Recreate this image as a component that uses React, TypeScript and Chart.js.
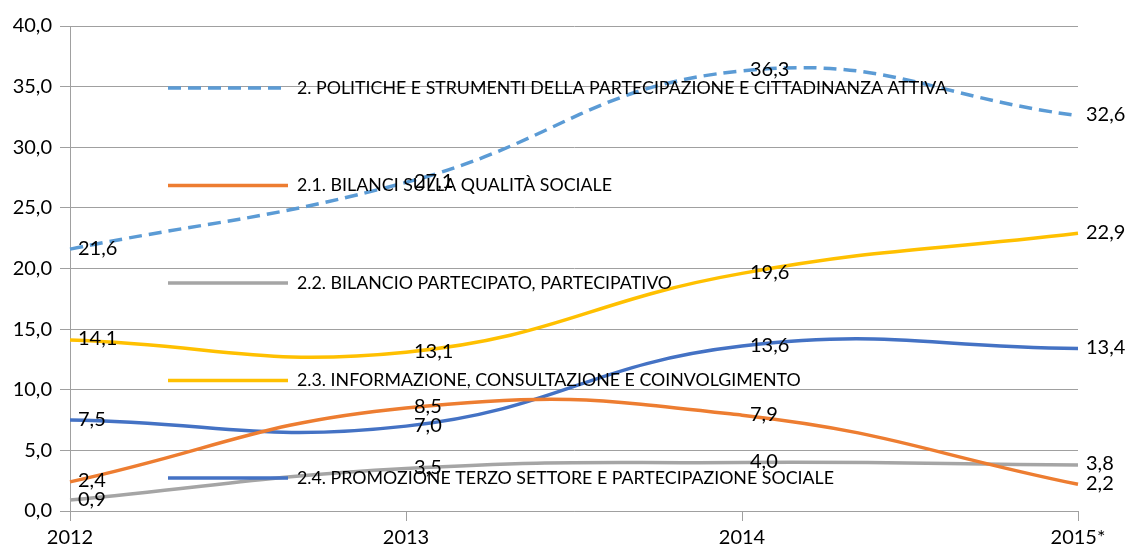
import React, { useEffect, useRef } from "react";
import { Chart, registerables } from "chart.js";

Chart.register(...registerables);

const categories = ["2012", "2013", "2014", "2015*"];
const seriesNames = [
  "2. POLITICHE E STRUMENTI DELLA PARTECIPAZIONE E CITTADINANZA ATTIVA",
  "2.1. BILANCI SULLA QUALITÀ SOCIALE",
  "2.2. BILANCIO PARTECIPATO, PARTECIPATIVO",
  "2.3. INFORMAZIONE, CONSULTAZIONE E COINVOLGIMENTO",
  "2.4. PROMOZIONE TERZO SETTORE E PARTECIPAZIONE SOCIALE",
];
const politiche = [21.6, 27.1, 36.3, 32.6];
const bilanciQualita = [2.4, 8.5, 7.9, 2.2];
const bilancioPartecipato = [0.9, 3.5, 4.0, 3.8];
const informazione = [14.1, 13.1, 19.6, 22.9];
const promozione = [7.5, 7.0, 13.6, 13.4];
const yMin = 0;
const yMax = 40;
const yStep = 5;

const colors = ["#5B9BD5", "#ED7D31", "#A5A5A5", "#FFC000", "#4472C4"];
const dashes: number[][] = [[13, 7], [], [], [], []];
const FONT_FAMILY = "Lato, 'Liberation Sans', sans-serif";
const NUM_FONT_SIZE = 20;
const LEGEND_FONT_SIZE = 17.8;

const fmt = (v: number) => v.toFixed(1).replace(".", ",");

const overlayPlugin = {
  id: "overlay",
  afterDatasetsDraw(chart: any) {
    const ctx = chart.ctx as CanvasRenderingContext2D;
    ctx.save();
    ctx.textBaseline = "middle";
    ctx.textAlign = "left";
    // legend (placed inside plot area, as in reference)
    ctx.font = `${LEGEND_FONT_SIZE}px ${FONT_FAMILY}`;
    const legX0 = 168;
    const legX1 = 288;
    const legTextX = 297;
    const legY0 = 88;
    const legStep = 97.5;
    chart.data.datasets.forEach((ds: any, i: number) => {
      const y = legY0 + i * legStep;
      ctx.strokeStyle = ds.borderColor;
      ctx.lineWidth = 3.5;
      ctx.setLineDash(ds.borderDash || []);
      ctx.beginPath();
      ctx.moveTo(legX0, y);
      ctx.lineTo(legX1, y);
      ctx.stroke();
      ctx.setLineDash([]);
      ctx.fillStyle = "#000";
      ctx.fillText(ds.label, legTextX, y);
    });
    // data labels
    ctx.font = `${NUM_FONT_SIZE}px ${FONT_FAMILY}`;
    ctx.fillStyle = "#000";
    chart.data.datasets.forEach((ds: any, i: number) => {
      const meta = chart.getDatasetMeta(i);
      meta.data.forEach((pt: any, j: number) => {
        ctx.fillText(fmt(ds.data[j]), pt.x + 8, pt.y - 1);
      });
    });
    ctx.restore();
  },
};

export default function App() {
  const canvasRef = useRef<HTMLCanvasElement | null>(null);

  useEffect(() => {
    document.body.style.margin = "0";
    const canvas = canvasRef.current;
    if (!canvas) return;
    const seriesData = [politiche, bilanciQualita, bilancioPartecipato, informazione, promozione];
    const chart = new Chart(canvas, {
      type: "line",
      data: {
        labels: categories,
        datasets: seriesData.map((d, i) => ({
          label: seriesNames[i],
          data: d,
          borderColor: colors[i],
          backgroundColor: colors[i],
          borderWidth: 3.5,
          borderDash: dashes[i],
          pointRadius: 0,
          pointHoverRadius: 0,
          tension: 0.45,
          fill: false,
        })),
      },
      options: {
        animation: false,
        responsive: true,
        maintainAspectRatio: false,
        layout: { padding: { top: 26, left: 0, right: 50, bottom: 0 } },
        plugins: {
          legend: { display: false },
          tooltip: { enabled: false },
          title: { display: false },
        },
        scales: {
          x: {
            type: "category",
            offset: false,
            grid: {
              drawOnChartArea: false,
              drawTicks: true,
              tickLength: 10,
              color: "#A0A0A0",
            },
            border: { color: "#A0A0A0", width: 1 },
            ticks: {
              color: "#000",
              padding: 5,
              maxRotation: 0,
              autoSkip: false,
              font: { family: FONT_FAMILY, size: NUM_FONT_SIZE },
            },
            afterFit: (scale: any) => {
              scale.height = 35;
            },
          },
          y: {
            min: yMin,
            max: yMax,
            grid: {
              color: "#A0A0A0",
              tickLength: 10,
              drawTicks: true,
            },
            border: { color: "#A0A0A0", width: 1 },
            ticks: {
              stepSize: yStep,
              color: "#000",
              padding: 8,
              font: { family: FONT_FAMILY, size: NUM_FONT_SIZE },
              callback: (v: any) => fmt(Number(v)),
            },
            afterFit: (scale: any) => {
              scale.width = 70;
            },
          },
        },
      },
      plugins: [overlayPlugin],
    });
    return () => chart.destroy();
  }, []);

  return (
    <div style={{ position: "absolute", left: 0, top: 0, width: 1128, height: 546, background: "#fff" }}>
      <canvas ref={canvasRef} />
    </div>
  );
}
